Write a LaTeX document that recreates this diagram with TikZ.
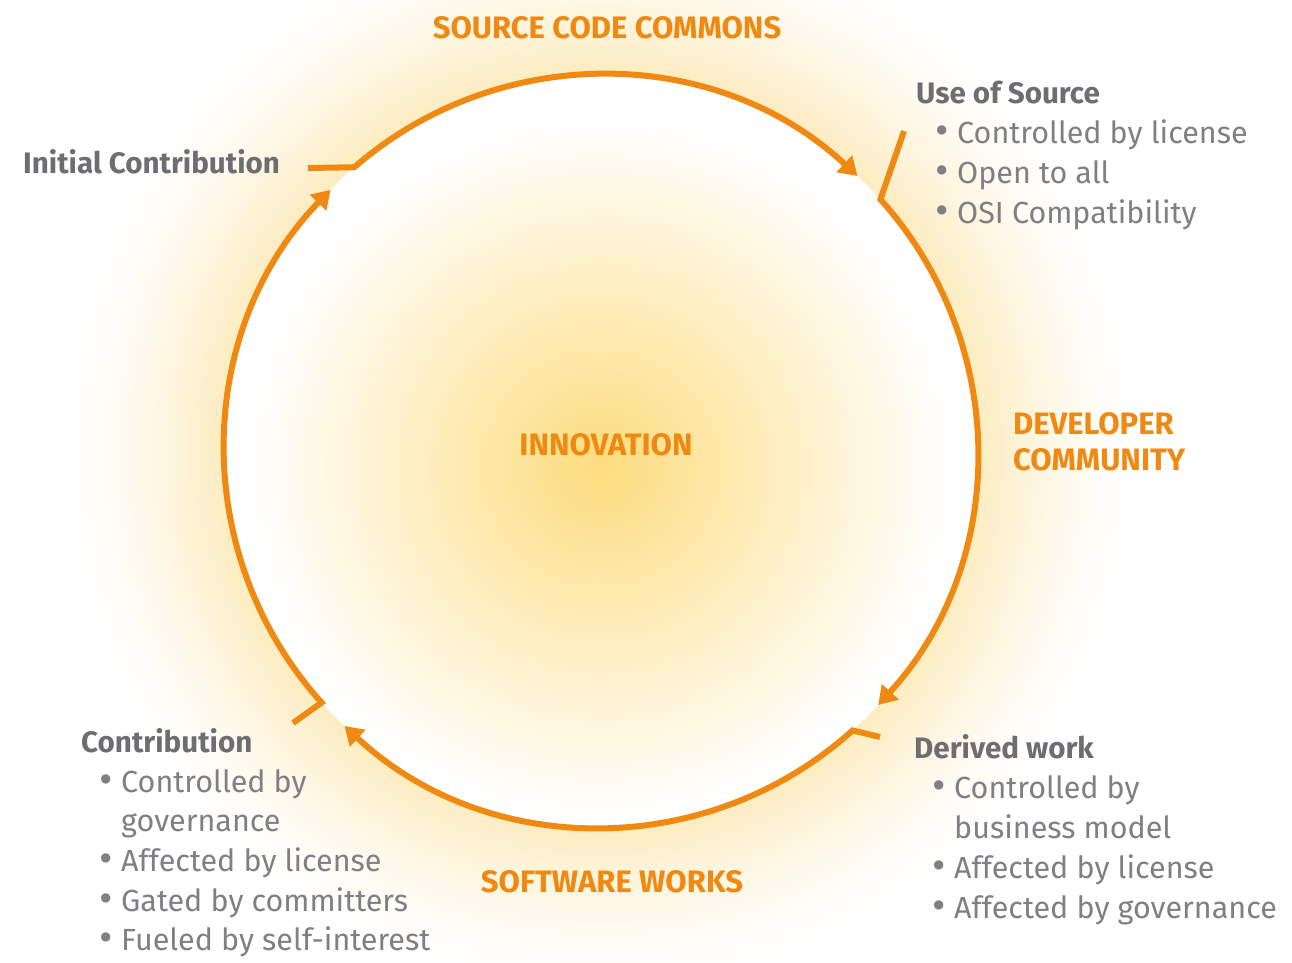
\documentclass[tikz,border=0pt]{standalone}
\usepackage{fontspec}
\setmainfont{Fira Sans}
\usetikzlibrary{arrows.meta,calc}
\definecolor{orng}{RGB}{239,137,18}
\definecolor{txtgray}{RGB}{128,128,132}
\definecolor{hdgray}{RGB}{110,110,114}
\definecolor{gA}{RGB}{253,220,125}
\definecolor{hA}{RGB}{253,236,192}
\begin{document}
\begin{tikzpicture}[x=1pt,y=-1pt,
  ring/.style={draw=orng, line width=6pt, -{Triangle[length=18pt,width=22pt]}},
  orhead/.style={text=orng, font=\bfseries\fontsize{31}{34}\selectfont, inner sep=0pt, anchor=base},
  orleft/.style={orhead, anchor=base west},
  grhead/.style={text=hdgray, font=\bfseries\fontsize{29.6}{40}\selectfont, inner sep=0pt, anchor=base west},
  item/.style={text=txtgray, font=\fontsize{30.5}{40}\selectfont, inner sep=0pt, anchor=base west}]
\newcommand{\bul}{\llap{\raisebox{-1pt}{\scalebox{1.35}{•}}\hspace{8pt}}}
\useasboundingbox (0,0) rectangle (1292,962);
\fill[white] (0,0) rectangle (1292,962);
\coordinate (c) at (601,451);
\coordinate (g) at (601,468);
\begin{scope}
  \clip (0,0) rectangle (1292,962);
  % outer halo
  \foreach \r in {540,535,...,380} {
    \pgfmathsetmacro\p{100*((540-\r)/160)^1.5}
    \fill[hA!\p!white] (c) circle[radius=\r];
  }
  \fill[white] (c) circle[radius=376];
  % inner glow
  \foreach \r in {345,340,...,5} {
    \pgfmathsetmacro\p{100*(1-\r/350)}
    \fill[gA!\p!white] (g) circle[radius=\r];
  }
\end{scope}
% tails
\coordinate (t1) at (308,168);
\coordinate (t2) at (904,131);
\coordinate (t3) at (880,737);
\coordinate (t4) at (293,723);
\draw[ring] (t1) -- ($(c)+(-131:376)$) arc[start angle=-131, end angle=-47, radius=376];
\draw[ring] (t2) -- ($(c)+(-42:376)$) arc[start angle=-42, end angle=42.5, radius=376];
\draw[ring] (t3) -- ($(c)+(48:376)$) arc[start angle=48, end angle=133, radius=376];
\draw[ring] (t4) -- ($(c)+(138:376)$) arc[start angle=138, end angle=224, radius=376];
% orange titles
\node[orhead] (scc) at (607,38) {SOURCE CODE COMMONS};
\node[orhead] (inn) at (606,455) {INNOVATION};
\node[orleft] (dev1) at (1013,434) {DEVELOPER};
\node[orleft] (dev2) at (1013,470) {COMMUNITY};
\node[orhead] (sw) at (612,892) {SOFTWARE WORKS};
% gray texts
\node[grhead] (ic) at (23,173) {Initial Contribution};
\node[grhead] (us) at (916,103) {Use of Source};
\node[item] (us1) at (957,143) {\bul Controlled by license};
\node[item] (us2) at (957,183) {\bul Open to all};
\node[item] (us3) at (957,223) {\bul OSI Compatibility};
\node[grhead] (co) at (81,752) {Contribution};
\node[item] (co1) at (121,792) {\bul Controlled by};
\node[item] (co2) at (121,831) {governance};
\node[item] (co3) at (121,871) {\bul Affected by license};
\node[item] (co4) at (121,911) {\bul Gated by committers};
\node[item] (co5) at (121,950) {\bul Fueled by self-interest};
\node[grhead] (dw) at (914,758) {Derived work};
\node[item] (dw1) at (954,798) {\bul Controlled by};
\node[item] (dw2) at (954,838) {business model};
\node[item] (dw3) at (954,878) {\bul Affected by license};
\node[item] (dw4) at (954,918) {\bul Affected by governance};
\end{tikzpicture}
\end{document}
